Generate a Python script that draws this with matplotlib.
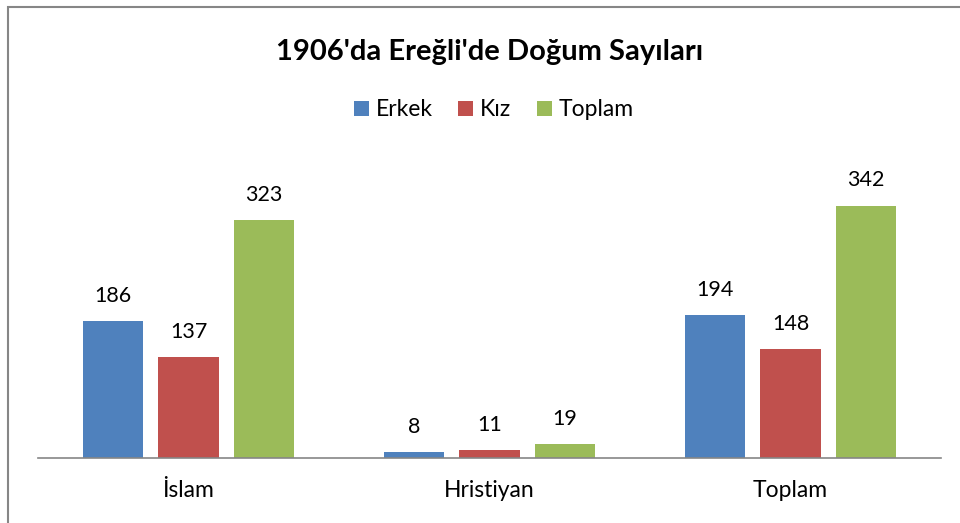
import numpy as np
import matplotlib
matplotlib.use("Agg")
import matplotlib.pyplot as plt
from matplotlib.patches import Rectangle

categories = ["İslam", "Hristiyan", "Toplam"]
series_names = ["Erkek", "Kız", "Toplam"]
erkek = [186, 8, 194]
kiz = [137, 11, 148]
toplam = [323, 19, 342]
colors = ["#4F81BD", "#C0504D", "#9BBB59"]

plt.rcParams['font.family'] = ['Lato', 'DejaVu Sans']

fig = plt.figure(figsize=(9.6, 5.23), dpi=100)

# chart border (runs off the right and bottom edge like the screenshot)
fig.patches.append(Rectangle((8/960, -0.1), 1.2, 1 - 7/523 + 0.1, transform=fig.transFigure,
                             fill=False, edgecolor="#868686", linewidth=1.5))

ax = fig.add_axes([38/960, 65/523, 903/960, 295/523])
x = np.arange(len(categories))
w = 0.2
gap = 0.05
values = [erkek, kiz, toplam]
for i, (name, vals) in enumerate(zip(series_names, values)):
    pos = x + (i - 1) * (w + gap)
    bars = ax.bar(pos, vals, width=w, color=colors[i], label=name)
    for p, v in zip(pos, vals):
        ax.annotate(str(v), (p, v), xytext=(0, 11), textcoords="offset points",
                    ha="center", va="bottom", fontsize=15.5)

ax.set_xlim(-0.5, 2.5)
ax.set_ylim(0, 400)
for s in ["top", "left", "right"]:
    ax.spines[s].set_visible(False)
ax.spines["bottom"].set_color("#868686")
ax.spines["bottom"].set_linewidth(1.2)
ax.set_yticks([])
ax.set_xticks(x)
ax.set_xticklabels(categories, fontsize=16.5)
ax.tick_params(axis="x", length=0, pad=16)

fig.text(490/960, 1 - 52/523, "1906'da Ereğli'de Doğum Sayıları", ha="center", va="center",
         fontsize=21, fontweight="bold")
fig.legend(loc="center", bbox_to_anchor=(494/960, 1 - 110/523), ncol=3, frameon=False,
           fontsize=16.5, handlelength=0.65, handleheight=0.65, handletextpad=0.3, columnspacing=1.1)

fig.savefig("out.png", dpi=100)
